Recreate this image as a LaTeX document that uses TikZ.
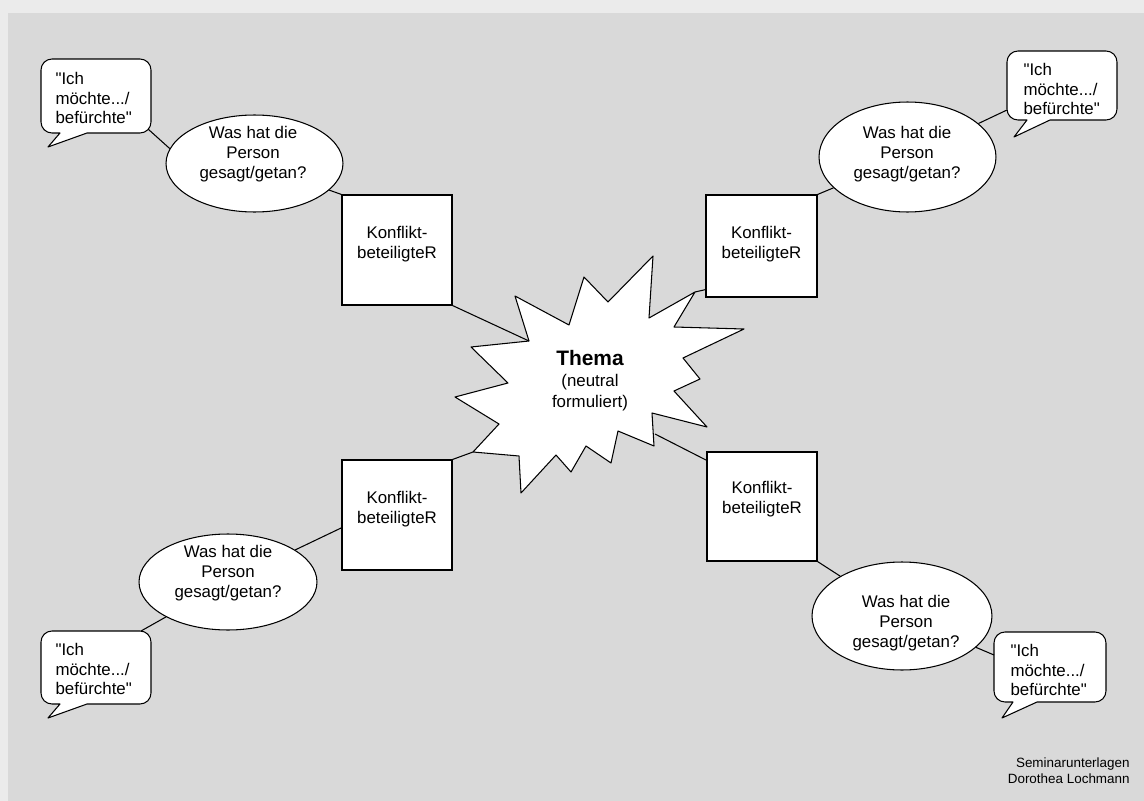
\documentclass[tikz,border=0pt]{standalone}
\usepackage{fontspec}
\setmainfont{Liberation Sans}
\usetikzlibrary{shapes.geometric}
\definecolor{rand}{HTML}{EBEBEB}
\definecolor{flaeche}{HTML}{D9D9D9}
\newcommand{\blase}[8]{%
  \filldraw[fill=white,line width=0.6pt,line join=round] (#5,#4) -- (#7,#8) -- (#6,#4) -- ({#3-11},#4) arc[start angle=90,end angle=0,radius=11] -- (#3,{#2+11}) arc[start angle=0,end angle=-90,radius=11] -- ({#1+11},#2) arc[start angle=270,end angle=180,radius=11] -- (#1,{#4-11}) arc[start angle=180,end angle=90,radius=11] -- cycle;}
\newcommand{\wunsch}{\textquotedbl Ich\\möchte.../\\befürchte\textquotedbl}
\newcommand{\frage}{Was hat die\\Person\\gesagt/getan?}
\begin{document}
\begin{tikzpicture}[x=0.02cm,y=-0.02cm,line width=0.6pt,
  font=\fontsize{9.6}{11.34}\selectfont,
  kasten/.style={draw,fill=white,inner sep=0pt,minimum width=2.2cm,minimum height=2.2cm},
  wolke/.style={ellipse,draw,fill=white,inner sep=0pt,minimum width=3.54cm},
  spruch/.style={anchor=west,align=left,inner sep=0pt}]
            \useasboundingbox (0,0) rectangle (1144,801);
            \fill[rand] (0,0) rectangle (1144,801);
            \fill[flaeche] (8,13) rectangle (1144,801);
            \filldraw[fill=white,line join=round] (653,256) -- (649,318) -- (695,292) -- (674,327) -- (744,329) -- (683,358) -- (700,379) -- (674,391) -- (707,427) -- (652,413) -- (654,446) -- (618,431) -- (611,463) -- (586,446) -- (571,472) -- (556,455) -- (521,493) -- (519,456) -- (473,452) -- (499,424) -- (455,397) -- (508,383) -- (471,347) -- (529,341) -- (515,296) -- (569,325) -- (584,277) -- (608,302) -- cycle;
            \coordinate (s1) at (529,341);
            \coordinate (s2) at (695,292);
            \coordinate (s3) at (473,452);
            \coordinate (s4) at (655,434);
            \node[align=center,font=\fontsize{9.6}{11.9}\selectfont] (thema) at (590,381) {{\fontsize{11.9}{11.9}\selectfont\bfseries Thema}\\(neutral\\formuliert)};
            \blase{41}{59}{151}{133}{60}{87}{48}{147}
            \blase{1007}{51}{1117}{120}{1027}{1050}{1014}{137}
            \blase{41}{631}{151}{704}{60}{87}{48}{718}
            \blase{994}{632}{1106}{702}{1013}{1037}{1002}{718}
            \node[spruch] (b1) at (55,98) {\wunsch};
            \node[spruch] (b2) at (1023,89) {\wunsch};
            \node[spruch] (b3) at (55,669) {\wunsch};
            \node[spruch] (b4) at (1010,670) {\wunsch};
            \coordinate (b1c) at (148,129);
            \coordinate (b2c) at (1007,110);
            \coordinate (b3c) at (141,631);
            \coordinate (b4c) at (994,655);
            \node[kasten] (k1) at (397,250) {};
            \node[kasten,minimum width=2.22cm,minimum height=2.04cm] (k2) at (761.5,246) {};
            \node[kasten] (k3) at (397,515) {};
            \node[kasten,minimum height=2.18cm] (k4) at (762,506.5) {};
            \node[align=center] (k1t) at (397,244) {Konflikt-\\beteiligteR};
            \node[align=center] (k2t) at (761.5,244) {Konflikt-\\beteiligteR};
            \node[align=center] (k3t) at (397,509) {Konflikt-\\beteiligteR};
            \node[align=center] (k4t) at (762,499) {Konflikt-\\beteiligteR};
            \node[wolke,minimum height=1.94cm] (e1) at (254.5,163.5) {};
            \node[wolke,minimum height=2.2cm] (e2) at (907.5,157) {};
            \node[wolke,minimum width=3.56cm,minimum height=1.92cm] (e3) at (228,582) {};
            \node[wolke,minimum width=3.6cm,minimum height=2.16cm] (e4) at (902,616) {};
            \node[align=center] (e1t) at (253,154) {\frage};
            \node[align=center] (e2t) at (907,154) {\frage};
            \node[align=center] (e3t) at (228,573) {\frage};
            \node[align=center] (e4t) at (906,623) {\frage};
            \draw (b1c) -- (e1.170);
            \draw (e1) -- (k1.north west);
            \draw (k1.south east) -- (s1);
            \draw (e2) -- (b2c);
            \draw (k2.north east) -- (e2);
            \draw (s2) -- ([yshift=4.5pt]k2.south west);
            \draw (k3.north east) -- (s3);
            \draw (e3) -- (k3.193);
            \draw (e3) -- (b3c);
            \draw (s4) -- ([yshift=-5pt]k4.north west);
            \draw (k4.south east) -- (e4);
            \draw (e4) -- (b4c);
            \node[anchor=east,align=right,font=\fontsize{7.65}{9.07}\selectfont] (quelle) at (1136,771) {Seminarunterlagen\\Dorothea Lochmann};
         \end{tikzpicture}
\end{document}
